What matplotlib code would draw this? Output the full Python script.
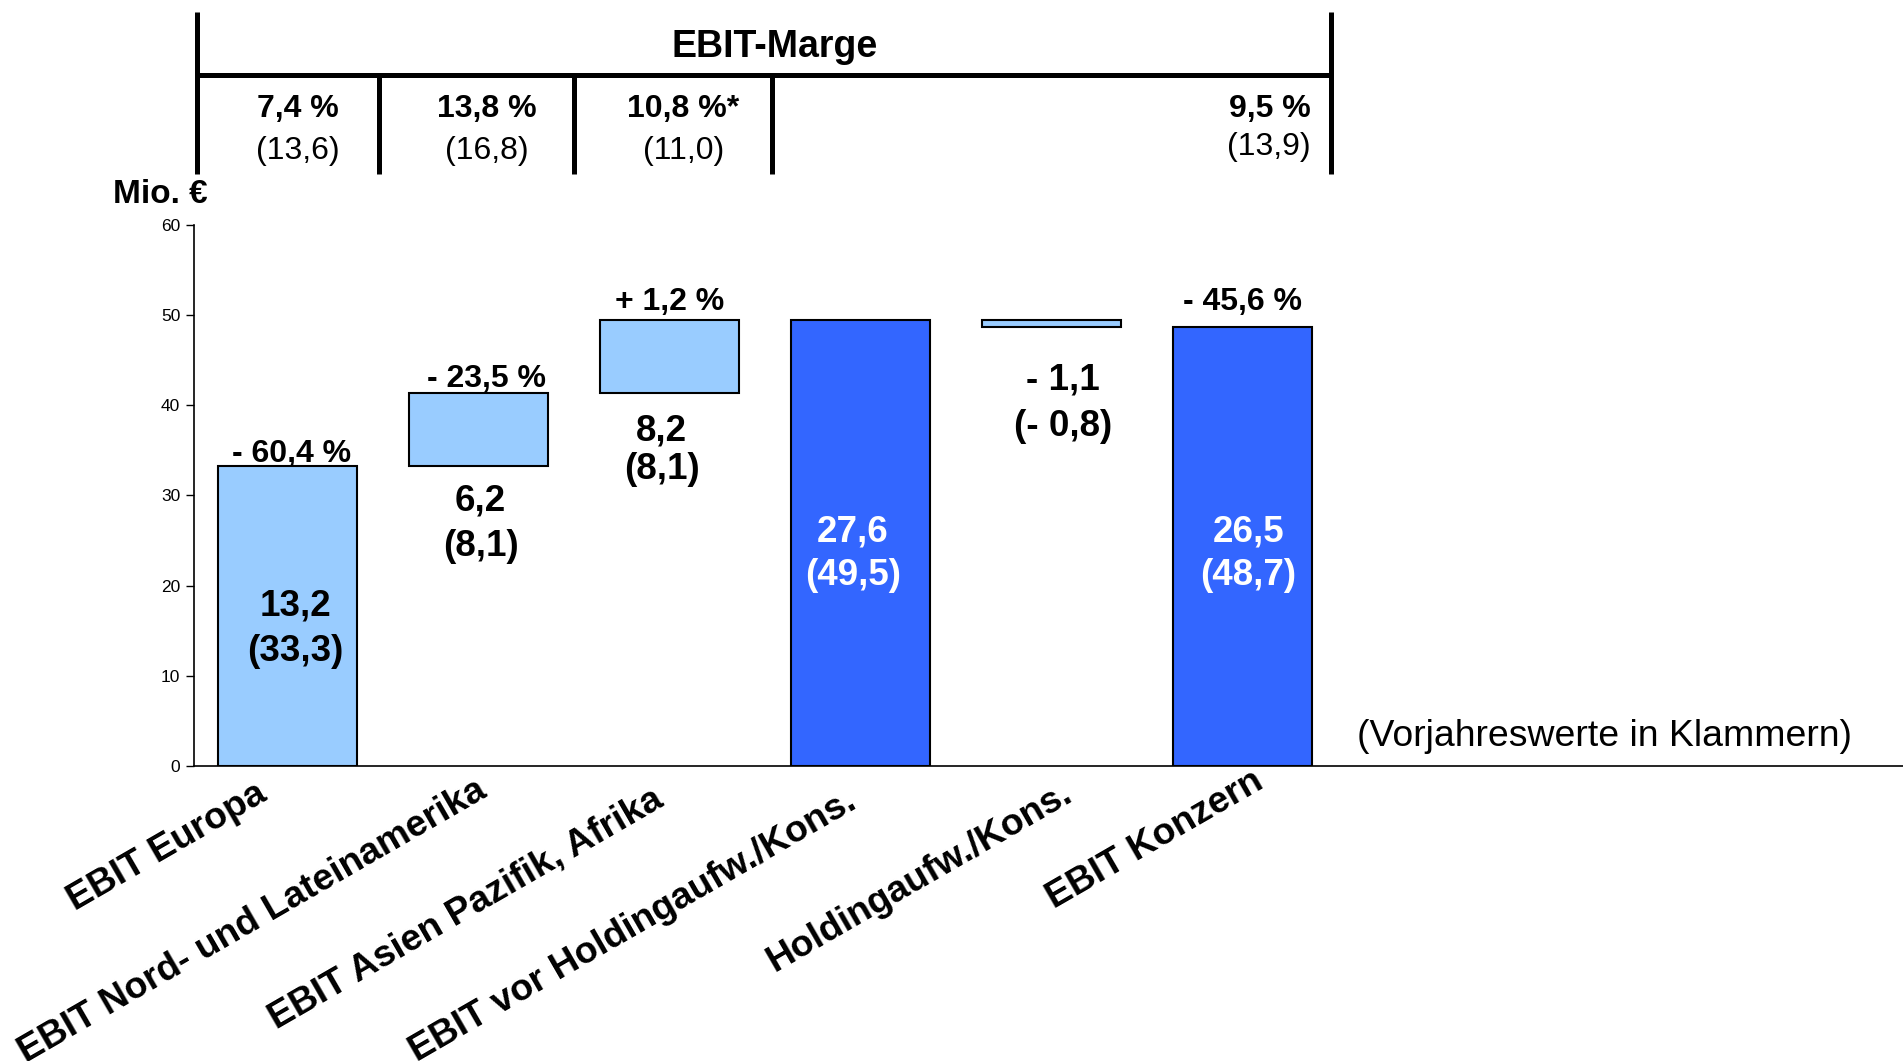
import matplotlib
matplotlib.use('Agg')
import matplotlib.pyplot as plt
from matplotlib.lines import Line2D
from matplotlib.transforms import offset_copy

plt.rcParams['font.family'] = ['Liberation Sans', 'DejaVu Sans']

# ---------------- data ----------------
categories = ['EBIT Europa', 'EBIT Nord- und Lateinamerika', 'EBIT Asien Pazifik, Afrika',
              'EBIT vor Holdingaufw./Kons.', 'Holdingaufw./Kons.', 'EBIT Konzern']
bar_values = [33.3, 8.1, 8.1, 49.5, -0.8, 48.7]          # bar heights (Vorjahr, Mio. €)
is_total = [False, False, False, True, False, True]
current_labels = ['13,2', '6,2', '8,2', '27,6', '- 1,1', '26,5']
prev_labels = ['(33,3)', '(8,1)', '(8,1)', '(49,5)', '(- 0,8)', '(48,7)']
change_labels = ['- 60,4 %', '- 23,5 %', '+ 1,2 %', None, None, '- 45,6 %']
margin_current = ['7,4 %', '13,8 %', '10,8 %*', '9,5 %']
margin_prev = ['(13,6)', '(16,8)', '(11,0)', '(13,9)']
yticks = [0, 10, 20, 30, 40, 50, 60]

# ---------------- layout ----------------
light = '#99CCFF'
dark = '#3366FF'
val_y = [17.8, 29.4, 37.1, 26.0, 42.85, 26.0]
prev_y = [12.7, 24.3, 32.9, 21.1, 37.7, 21.1]
lab_dx = [0.04, 0.01, -0.04, -0.04, 0.06, 0.03]
chg_y = [34.6, 42.9, 51.45, None, None, 51.45]
chg_dx = [0.02, 0.04, 0.0, 0, 0, 0.0]
cat_dx = [-17, 3.5, -7, -5, 13, 13]      # points
cat_dy = [4, 6.5, 0, -1.5, 4, 13]        # points

fig = plt.figure(figsize=(19.03, 10.61), dpi=100)
ax = fig.add_axes([0.102, 0.278, 0.898, 0.510])

# waterfall bottoms/heights
bottoms, heights = [], []
running = 0.0
for v, tot in zip(bar_values, is_total):
    if tot:
        bottoms.append(0.0)
        heights.append(v)
        running = v
    else:
        if v >= 0:
            bottoms.append(running)
            heights.append(v)
        else:
            bottoms.append(running + v)
            heights.append(-v)
        running += v

x = list(range(len(categories)))
colors = [dark if t else light for t in is_total]
ax.bar(x, heights, bottom=bottoms, width=0.725, color=colors,
       edgecolor='black', linewidth=1.5, zorder=2)

for i in x:
    tc = 'white' if is_total[i] else 'black'
    ax.text(i + lab_dx[i], val_y[i], current_labels[i], ha='center', va='center',
            fontsize=26.5, fontweight='bold', color=tc, zorder=3)
    ax.text(i + lab_dx[i], prev_y[i], prev_labels[i], ha='center', va='center',
            fontsize=26.5, fontweight='bold', color=tc, zorder=3)
    if change_labels[i]:
        ax.text(i + chg_dx[i], chg_y[i], change_labels[i], ha='center', va='center',
                fontsize=23, fontweight='bold', color='black', zorder=3)

ax.set_xlim(-0.49, 8.46)
ax.set_ylim(0, 60)
ax.set_yticks(yticks)
ax.set_yticklabels([str(t) for t in yticks], fontsize=12.5)
ax.tick_params(axis='y', direction='out', length=6, width=1, pad=4)
ax.set_xticks(x)
ax.set_xticklabels(categories, rotation=30, ha='right', va='center',
                   rotation_mode='anchor', fontsize=26.8, fontweight='bold')
ax.tick_params(axis='x', length=0, pad=22)
for i, lbl in enumerate(ax.get_xticklabels()):
    lbl.set_transform(offset_copy(lbl.get_transform(), fig=fig,
                                  x=cat_dx[i], y=cat_dy[i], units='points'))
for s in ['top', 'right']:
    ax.spines[s].set_visible(False)
ax.spines['left'].set_linewidth(1.2)
ax.spines['bottom'].set_linewidth(1.2)

# y-axis unit
fig.text(0.0593, 0.8167, 'Mio. €', ha='left', va='center', fontsize=24, fontweight='bold')
fig.text(0.713, 0.3055, '(Vorjahreswerte in Klammern)', ha='left', va='center', fontsize=26.9)

# ---------------- EBIT-Marge table ----------------
lw = 3.6
col_x = [0.1033, 0.199, 0.3017, 0.4056, 0.6996]
y_top, y_mid, y_bot = 0.9886, 0.9291, 0.8364
fig.add_artist(Line2D([col_x[0], col_x[-1]], [y_mid, y_mid], color='black', lw=lw,
                      solid_capstyle='butt'))
fig.add_artist(Line2D([col_x[0], col_x[0]], [y_top, y_bot], color='black', lw=lw,
                      solid_capstyle='butt'))
fig.add_artist(Line2D([col_x[-1], col_x[-1]], [y_top, y_bot], color='black', lw=lw,
                      solid_capstyle='butt'))
for cx in col_x[1:-1]:
    fig.add_artist(Line2D([cx, cx], [y_mid, y_bot], color='black', lw=lw,
                          solid_capstyle='butt'))

fig.text(0.4069, 0.9555, 'EBIT-Marge', ha='center', va='center', fontsize=27, fontweight='bold')
cell_x = [0.1563, 0.2557, 0.3591]
for i in range(3):
    fig.text(cell_x[i], 0.8970, margin_current[i], ha='center', va='center',
             fontsize=23, fontweight='bold')
    fig.text(cell_x[i], 0.8581, margin_prev[i], ha='center', va='center', fontsize=23)
fig.text(0.6888, 0.8970, margin_current[3], ha='right', va='center', fontsize=23, fontweight='bold')
fig.text(0.6888, 0.8615, margin_prev[3], ha='right', va='center', fontsize=23)

fig.savefig('out.png', dpi=100, facecolor='white')
